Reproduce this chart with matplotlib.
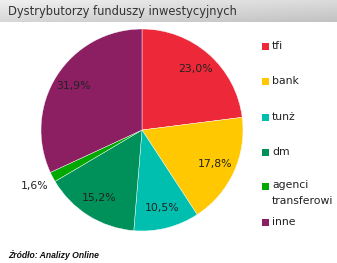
import numpy as np
import matplotlib
matplotlib.use("Agg")
import matplotlib.pyplot as plt
from matplotlib.patches import Rectangle

title = "Dystrybutorzy funduszy inwestycyjnych"
source = "Źródło: Analizy Online"
categories = ["tfi", "bank", "tunż", "dm", "agenci\ntransferowi", "inne"]
values = [23.0, 17.8, 10.5, 15.2, 1.6, 31.9]
colors = ["#ED2939", "#FFC800", "#00BFAE", "#00905A", "#00A800", "#8B1F62"]

W, H = 337, 263
fig = plt.figure(figsize=(W / 100, H / 100), dpi=100)
fig.patch.set_facecolor("white")

# title bar with gradient
bar_h = 22
bax = fig.add_axes([0, 1 - bar_h / H, 1, bar_h / H])
gx = np.linspace(0, 1, 200)[None, :]
gy = np.linspace(0, 1, 30)[:, None]
grad = 0.94 - 0.08 * gx - 0.10 * gy
bax.imshow(grad, cmap="gray", vmin=0, vmax=1, aspect="auto", extent=[0, 1, 0, 1], origin="upper")
bax.set_axis_off()
fig.text(8 / W, 1 - 11 / H, title, fontsize=8.3, color="#333333", va="center", ha="left",
         family="DejaVu Sans")

# pie
cx, cy, R = 142, 130, 101
ax = fig.add_axes([(cx - R) / W, (H - cy - R) / H, 2 * R / W, 2 * R / H])
wedges, _ = ax.pie(values, colors=colors, startangle=90, counterclock=False,
                   wedgeprops=dict(linewidth=0.3, edgecolor="white"))
ax.set_xlim(-1, 1)
ax.set_ylim(-1, 1)
ax.set_aspect("auto")

for w, v in zip(wedges, values):
    ang = np.deg2rad((w.theta1 + w.theta2) / 2)
    d = 0.8 if v > 5 else 1.2
    ax.text(d * np.cos(ang), d * np.sin(ang), f"{v:.1f}".replace(".", ",") + "%",
            ha="center", va="center", fontsize=7.8, color="#222222", clip_on=False)

# legend
leg_x = 262
leg_y = [46, 81, 117, 152, 186, 222]
for lab, col, ly in zip(categories, colors, leg_y):
    fig.patches.append(Rectangle((leg_x / W, (H - ly - 3.5) / H), 7 / W, 7 / H,
                                 transform=fig.transFigure, facecolor=col, edgecolor="none"))
    multi = "\n" in lab
    fig.text((leg_x + 10) / W, (H - ly + (6 if multi else 0)) / H, lab, fontsize=7.8,
             color="#222222", ha="left", va="top" if multi else "center", linespacing=1.75)

fig.text(8 / W, (H - 255) / H, source, fontsize=6.2, color="#111111", style="italic",
         fontweight="bold", ha="left", va="center", family="Liberation Sans")

fig.savefig("out.png", dpi=100)
